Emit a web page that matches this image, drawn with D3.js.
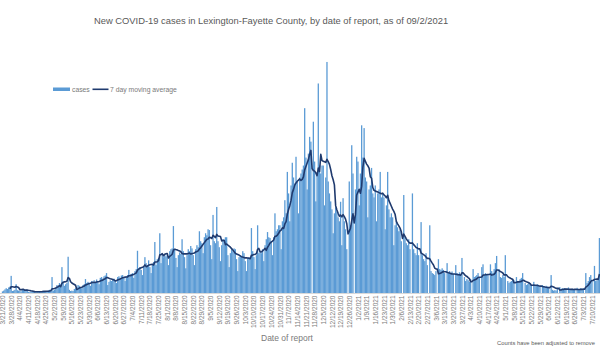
<!DOCTYPE html>
<html>
<head>
<meta charset="utf-8">
<script src="https://cdn.jsdelivr.net/npm/d3@7"></script>
<style>
    body { margin: 0; background: #fff; }
    svg { display: block; font-family: "Liberation Sans Narrow", "Liberation Sans", Arial, sans-serif; }
</style>
</head>
<body>
<svg id="chart" width="600" height="350"></svg>
<script>
// --- Data (daily new cases by date of report) ---
const firstDay = new Date(2020, 2, 21);
const cases = [
    4, 6, 9, 12, 10, 14, 16,
    43, 5, 6, 8, 22, 7, 6,
    6, 4, 10, 8, 7, 9, 6,
    3, 2, 4, 3, 2, 4, 3,
    3, 2, 5, 4, 3, 6, 5,
    4, 3, 6, 8, 7, 40, 6,
    8, 12, 20, 18, 25, 22, 65,
    28, 18, 22, 25, 91, 8, 5,
    6, 5, 10, 12, 15, 20, 18,
    15, 12, 20, 22, 35, 25, 28,
    24, 18, 30, 28, 32, 26, 34,
    30, 22, 38, 40, 36, 42, 44,
    50, 20, 28, 32, 30, 34, 36,
    32, 25, 40, 42, 38, 44, 45,
    40, 30, 42, 45, 58, 46, 48,
    50, 38, 55, 60, 106, 62, 65,
    58, 45, 68, 90, 75, 70, 82,
    65, 50, 72, 78, 128, 70, 85,
    88, 150, 75, 95, 90, 98, 92,
    95, 70, 105, 110, 112, 168, 110,
    88, 65, 95, 102, 98, 135, 105,
    90, 62, 95, 110, 105, 118, 112,
    95, 70, 110, 120, 115, 155, 130,
    125, 100, 140, 150, 145, 160, 158,
    120, 85, 196, 130, 125, 216, 130,
    115, 80, 120, 135, 130, 140, 140,
    95, 65, 100, 110, 105, 112, 110,
    85, 55, 90, 95, 92, 105, 100,
    80, 55, 88, 90, 85, 163, 105,
    90, 60, 95, 170, 100, 105, 100,
    110, 80, 120, 135, 153, 140, 138,
    130, 95, 140, 200, 155, 160, 170,
    170, 110, 180, 190, 233, 200, 304,
    250, 180, 270, 327, 290, 275, 342,
    280, 200, 290, 300, 310, 320, 464,
    340, 260, 350, 392, 380, 0, 430,
    330, 230, 300, 526, 320, 300, 320,
    320, 220, 290, 580, 280, 250, 230,
    210, 150, 200, 215, 205, 190, 180,
    229, 120, 238, 180, 160, 110, 0,
    280, 170, 371, 300, 0, 260, 342,
    330, 220, 300, 421, 340, 414, 290,
    280, 190, 260, 270, 314, 250, 240,
    270, 180, 250, 260, 304, 240, 250,
    240, 160, 220, 304, 210, 190, 200,
    190, 120, 170, 180, 165, 155, 160,
    130, 0, 246, 140, 125, 120, 135,
    110, 0, 250, 110, 100, 95, 125,
    95, 0, 178, 95, 85, 80, 100,
    70, 0, 170, 55, 50, 48, 45,
    55, 0, 85, 60, 58, 62, 58,
    50, 0, 75, 52, 55, 50, 54,
    48, 0, 70, 50, 48, 52, 46,
    88, 0, 40, 30, 35, 32, 28,
    35, 0, 60, 40, 42, 45, 50,
    40, 0, 65, 72, 45, 50, 48,
    45, 0, 72, 55, 50, 60, 75,
    93, 0, 60, 40, 38, 45, 40,
    95, 0, 30, 25, 28, 30, 35,
    32, 0, 40, 30, 28, 35, 38,
    50, 0, 25, 20, 22, 25, 24,
    20, 0, 28, 18, 20, 22, 18,
    15, 0, 20, 15, 14, 18, 16,
    12, 0, 45, 8, 6, 7, 6,
    10, 0, 15, 10, 12, 11, 12,
    8, 0, 14, 10, 9, 11, 10,
    9, 0, 13, 10, 9, 12, 10,
    12, 0, 50, 25, 30, 40, 45,
    30, 0, 68, 30, 32, 35, 138
];
const legendLabels = ['cases', '7 day moving average'];
const titleText = 'New COVID-19 cases in Lexington-Fayette County, by date of report, as of 09/2/2021';
const axisTitle = 'Date of report';
const footNote = 'Counts have been adjusted to remove';

const barColor = '#5b9bd5';
const lineColor = '#1f3a6e';
const textColor = '#595959';
const tickColor = '#7a7a7a';

const dates = cases.map((_, i) => d3.timeDay.offset(firstDay, i));
const baseY = 293;

const svg = d3.select('#chart');

const x = d3.scaleTime()
    .domain([firstDay, d3.timeDay.offset(firstDay, 476)])
    .range([2.5, 592]);
const y = d3.scaleLinear().domain([0, 600]).range([baseY, 54]);
const barW = 1.3;

// Bars
svg.append('g')
    .selectAll('rect')
    .data(cases)
    .join('rect')
    .attr('x', (d, i) => x(dates[i]) - barW / 2)
    .attr('y', d => y(d))
    .attr('width', barW)
    .attr('height', d => y(0) - y(d))
    .attr('fill', barColor);

// 7 day trailing average of the bars
const avg = cases.map((d, i) => i < 6 ? null : d3.mean(cases.slice(i - 6, i + 1)));
svg.append('path')
    .datum(avg)
    .attr('fill', 'none')
    .attr('stroke', lineColor)
    .attr('stroke-width', 1.6)
    .attr('stroke-linejoin', 'round')
    .attr('d', d3.line()
        .defined(d => d != null)
        .x((d, i) => x(dates[i]))
        .y(d => y(d)));

// Axis line
svg.append('line')
    .attr('x1', 0).attr('x2', 600)
    .attr('y1', baseY + 0.5).attr('y2', baseY + 0.5)
    .attr('stroke', '#d9d9d9');

// Weekly tick labels
const fmt = d3.timeFormat('%-m/%-d/%Y');
const axis = svg.append('g')
    .attr('transform', `translate(0,${baseY})`)
    .call(d3.axisBottom(x)
        .tickValues(dates.filter((d, i) => i % 7 === 0))
        .tickFormat(fmt)
        .tickSize(0));
axis.select('.domain').remove();
axis.selectAll('text')
    .attr('x', -2.5).attr('y', 0).attr('dy', '0.32em')
    .attr('transform', 'rotate(-90)')
    .attr('text-anchor', 'end')
    .attr('fill', tickColor)
    .style('font-size', '6.5px')
    .style('font-family', '"Liberation Sans Narrow", "Liberation Sans", Arial, sans-serif');

// Title
svg.append('text')
    .attr('x', 271).attr('y', 24)
    .attr('text-anchor', 'middle')
    .attr('fill', textColor)
    .style('font-size', '9.4px')
    .text(titleText);

// Legend
const lg = svg.append('g').attr('fill', '#7a7a7a').style('font-size', '6.8px');
lg.append('rect').attr('x', 53).attr('y', 87.5).attr('width', 17).attr('height', 3.5).attr('fill', barColor);
lg.append('text').attr('x', 72).attr('y', 91.5).text(legendLabels[0]);
lg.append('line').attr('x1', 92.5).attr('x2', 108.5).attr('y1', 89.3).attr('y2', 89.3)
    .attr('stroke', lineColor).attr('stroke-width', 1.6);
lg.append('text').attr('x', 110).attr('y', 91.5).text(legendLabels[1]);

// Axis title + note
svg.append('text')
    .attr('x', 287).attr('y', 341)
    .attr('text-anchor', 'middle')
    .attr('fill', tickColor)
    .style('font-size', '8.5px')
    .text(axisTitle);

svg.append('text')
    .attr('x', 497).attr('y', 345)
    .attr('fill', textColor)
    .style('font-size', '5.8px')
    .text(footNote);
</script>
</body>
</html>
